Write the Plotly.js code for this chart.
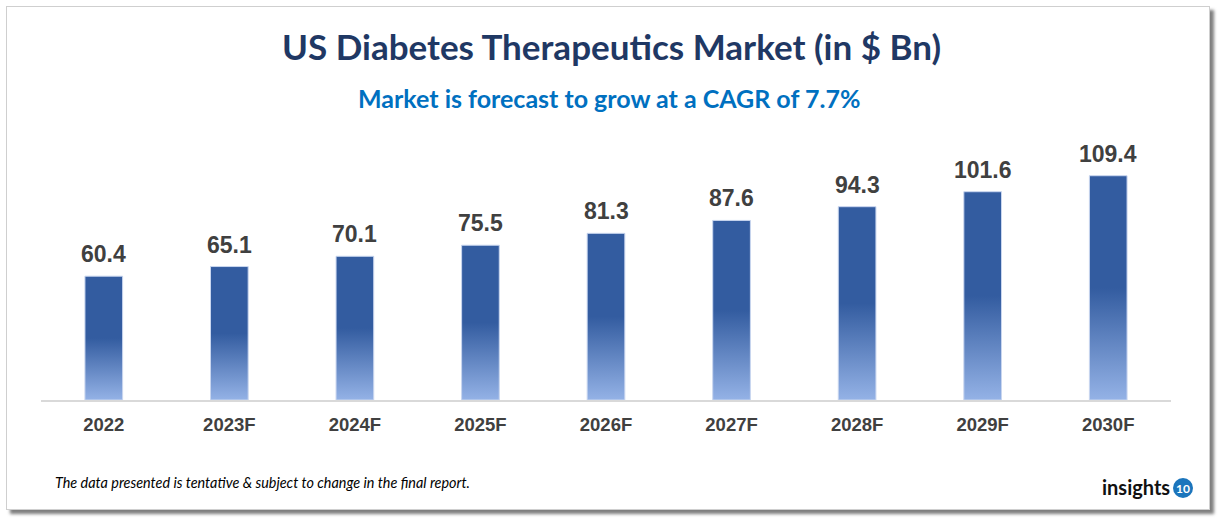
<!DOCTYPE html>
<html>
<head>
<meta charset="utf-8">
<script src="https://cdn.plot.ly/plotly-3.0.1.min.js"></script>
<style>
  html, body { margin: 0; padding: 0; background: #ffffff; }
  #card { position: absolute; left: 6px; top: 6px; width: 1202px; height: 502px;
          border: 1px solid #cfcfcf; background: #fff; box-shadow: 4px 4px 3px #7f7f7f; }
  #chart { position: absolute; left: 0; top: 0; width: 1222px; height: 520px; }
</style>
</head>
<body>
<div id="card"></div>
<div id="chart"></div>
<script>
const categories = ["2022", "2023F", "2024F", "2025F", "2026F", "2027F", "2028F", "2029F", "2030F"];
const marketValues = [60.4, 65.1, 70.1, 75.5, 81.3, 87.6, 94.3, 101.6, 109.4];
const chartTitle = "US Diabetes Therapeutics Market (in $ Bn)";
const chartSubtitle = "Market is forecast to grow at a CAGR of 7.7%";
const footnote = "The data presented is tentative & subject to change in the final report.";

const trace = {
  type: "bar",
  x: categories,
  y: marketValues,
  marker: { color: "#335ca0", line: { color: "#c9d6ef", width: 1 } },
  hoverinfo: "skip"
};

// value labels placed at each category index (category axis positions)
const valueLabels = categories.map((c, i) => ({
  x: i, y: marketValues[i], xref: "x", yref: "y",
  text: marketValues[i].toFixed(1),
  showarrow: false, xanchor: "center", yanchor: "bottom", yshift: 7,
  font: { family: "Liberation Sans, Arial, sans-serif", size: 23, color: "#404040", weight: "bold" }
}));

const W = 1222, H = 520, L = 41, R = 51, T = 154, B = 120;
const pw = W - L - R, ph = H - T - B;
const px = x => (x - L) / pw;
const py = y => (H - B - y) / ph;

const layout = {
  width: W, height: H,
  paper_bgcolor: "rgba(0,0,0,0)",
  plot_bgcolor: "rgba(0,0,0,0)",
  margin: { l: L, r: R, t: T, b: B },
  bargap: 0.7,
  showlegend: false,
  xaxis: {
    type: "category",
    categoryorder: "array", categoryarray: categories,
    range: [-0.5, categories.length - 0.5],
    showline: true, linecolor: "#d9d9d9", linewidth: 2,
    ticks: "", showgrid: false, zeroline: false,
    tickfont: { family: "Liberation Sans, Arial, sans-serif", size: 18.5, color: "#404040", weight: "bold" },
    ticklabelstandoff: 7
  },
  yaxis: { range: [0, 120], visible: false, showgrid: false, zeroline: false },
  annotations: valueLabels.concat([
    { text: chartTitle, xref: "paper", yref: "paper", x: px(611), y: py(46), xanchor: "center", yanchor: "middle",
      showarrow: false, font: { family: "Lato, sans-serif", size: 35, color: "#1f3864", weight: "bold" } },
    { text: chartSubtitle, xref: "paper", yref: "paper", x: px(609), y: py(98), xanchor: "center", yanchor: "middle",
      showarrow: false, font: { family: "Lato, sans-serif", size: 25, color: "#0070c0", weight: "bold" } },
    { text: footnote, xref: "paper", yref: "paper", x: px(53), y: py(482), xanchor: "left", yanchor: "middle",
      showarrow: false, font: { family: "Lato, sans-serif", size: 14.4, color: "#000000", style: "italic" } },
    { text: "insights", xref: "paper", yref: "paper", x: px(1172), y: py(487), xanchor: "right", yanchor: "middle",
      showarrow: false, font: { family: "Lato, sans-serif", size: 20, color: "#111111", weight: "bold" } },
    { text: "10", xref: "paper", yref: "paper", x: px(1183), y: py(488), xanchor: "center", yanchor: "middle",
      showarrow: false, font: { family: "Lato, sans-serif", size: 12, color: "#ffffff", weight: "bold" } }
  ]),
  shapes: [
    { type: "circle", xref: "paper", yref: "paper", x0: px(1173), x1: px(1193), y0: py(498), y1: py(478),
      fillcolor: "#1b75bc", line: { width: 0 } }
  ]
};

Plotly.newPlot("chart", [trace], layout, { displayModeBar: false, staticPlot: true }).then(gd => {
  const svg = gd.querySelector("svg.main-svg");
  const ns = "http://www.w3.org/2000/svg";
  let defs = svg.querySelector("defs");
  if (!defs) { defs = document.createElementNS(ns, "defs"); svg.insertBefore(defs, svg.firstChild); }
  const grad = document.createElementNS(ns, "linearGradient");
  grad.setAttribute("id", "barGrad");
  grad.setAttribute("x1", "0"); grad.setAttribute("y1", "0");
  grad.setAttribute("x2", "0"); grad.setAttribute("y2", "1");
  [["0%", "#335ca0"], ["50%", "#335ca0"], ["100%", "#94b2e6"]].forEach(([o, c]) => {
    const s = document.createElementNS(ns, "stop");
    s.setAttribute("offset", o); s.setAttribute("stop-color", c);
    grad.appendChild(s);
  });
  defs.appendChild(grad);
  gd.querySelectorAll(".bars .point path").forEach(p => { p.style.fill = "url(#barGrad)"; });
});
</script>
</body>
</html>
